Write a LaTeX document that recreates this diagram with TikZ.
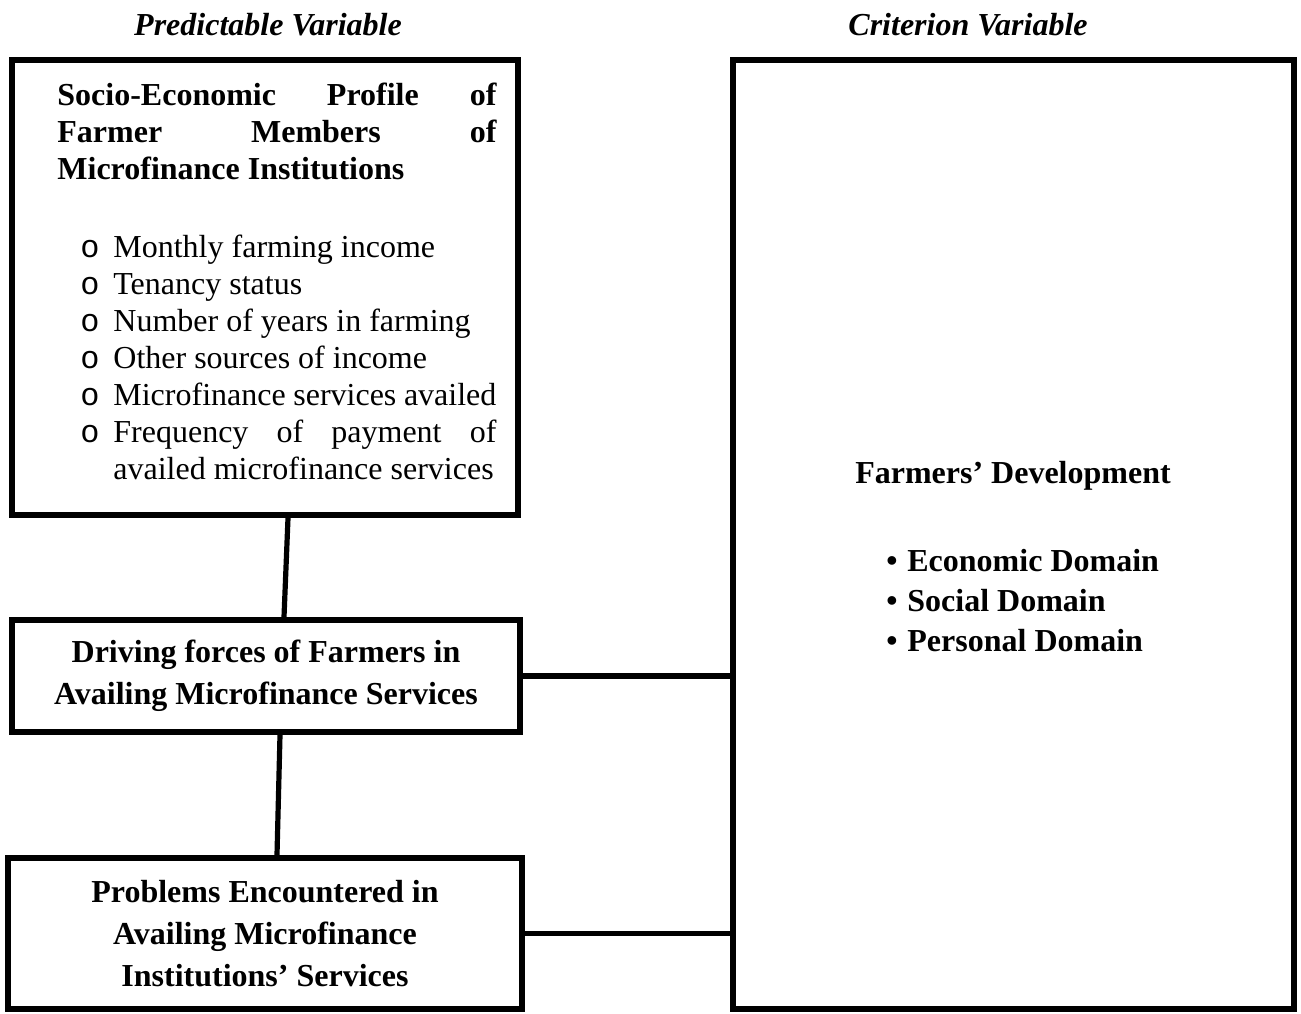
\documentclass[tikz,border=0pt]{standalone}
\usepackage{fontspec}
\setmainfont{Liberation Serif}
\newfontfamily\circfont{Liberation Mono}
\usetikzlibrary{positioning, calc}

\begin{document}
\begin{tikzpicture}[x=0.5pt, y=-0.5pt, auto,
  frame/.style={draw, line width=3pt, rectangle, inner sep=0pt, align=center},
  txt/.style={inner sep=0pt, font=\fontsize{16}{18.5}\selectfont},
  link/.style={-, line width=2.6pt}]
  \useasboundingbox (0,0) rectangle (1301,1013);

  % column titles
  \node[txt, font=\fontsize{16}{18.5}\selectfont\bfseries\itshape] (predvar) at (268,25) {Predictable Variable};
  \node[txt, font=\fontsize{16}{18.5}\selectfont\bfseries\itshape] (critvar) at (968,25) {Criterion Variable};

  % left column
  \node[frame, minimum width=253pt, minimum height=227.5pt] (socio) at (265,287.5) {};
  \node[txt, font=\fontsize{16}{18.5}\selectfont\bfseries, text width=219.5pt, align=justify, anchor=north west] (sociohead) at (57,83)
    {Socio-Economic\hfill Profile\hfill of\\ Farmer\hfill Members\hfill of\\ Microfinance Institutions};
  \node[txt, anchor=north west] (socioitems) at (80,231) {%
    \begin{tabular}{@{}p{16.5pt}@{}p{191.5pt}@{}}
      {\circfont o} & Monthly farming income\\
      {\circfont o} & Tenancy status\\
      {\circfont o} & Number of years in farming\\
      {\circfont o} & Other sources of income\\
      {\circfont o} & Microfinance services availed\\
      {\circfont o} & Frequency\hfill of\hfill payment\hfill of\newline availed microfinance services
    \end{tabular}};

  \node[frame, minimum width=254pt, minimum height=56pt, font=\fontsize{16}{21}\selectfont\bfseries] (drive) at (266,676)
    {Driving forces of Farmers in\\Availing Microfinance Services};
  \node[frame, minimum width=257pt, minimum height=75.5pt, font=\fontsize{16}{21}\selectfont\bfseries] (prob) at (265,933.5)
    {Problems Encountered in\\Availing Microfinance\\Institutions’ Services};

  % right column
  \node[frame, minimum width=280.5pt, minimum height=474.5pt] (dev) at (1013.5,534.5) {};
  \node[txt, font=\fontsize{16}{18.5}\selectfont\bfseries] (devhead) at (1013,476) {Farmers’ Development};
  \node[txt, font=\fontsize{16}{20}\selectfont\bfseries, anchor=west] (devitems) at (886,603) {%
    \begin{tabular}{@{}p{10.5pt}@{}l@{}}
      \textbullet & Economic Domain\\
      \textbullet & Social Domain\\
      \textbullet & Personal Domain
    \end{tabular}};

  % connectors
  \draw[link] ([xshift=11.5pt]socio.south) -- ([xshift=9pt]drive.north);
  \draw[link] ([xshift=7pt]drive.south) -- ([xshift=6pt]prob.north);
  \draw[link] (drive.east) -- (drive.east -| dev.west);
  \draw[link] (prob.east) -- (prob.east -| dev.west);
\end{tikzpicture}
\end{document}
